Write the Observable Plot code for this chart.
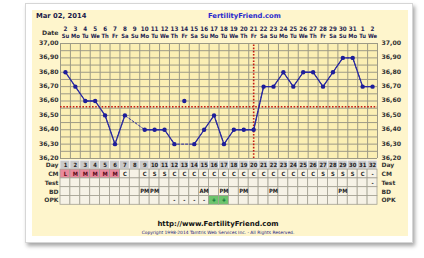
<!DOCTYPE html>
<html><head><meta charset="utf-8">
<script src="https://cdn.jsdelivr.net/npm/d3@7"></script>
<script src="https://cdn.jsdelivr.net/npm/@observablehq/plot@0.6"></script>
<style>
body{margin:0;background:#fff;width:424px;height:258px;overflow:hidden;position:relative;font-family:"DejaVu Sans",sans-serif}
#box{position:absolute;left:25px;top:3px;width:386px;height:238px;background:#fff;border:1px solid #d6d6d6;box-shadow:2px 3px 4px rgba(0,0,0,.35)}
#panel{position:absolute;left:32px;top:10px;width:376px;height:226px;background:#FEF5CC}
#chart{position:absolute;left:0;top:0}
.t{position:absolute;white-space:nowrap;font-weight:bold}
#title{left:36px;top:12px;font-size:6.8px;color:#1a1a4a}
#brand{left:208px;top:12px;font-size:6.8px;color:#2a2acc}
#url{left:0;width:436px;text-align:center;top:220px;font-size:7px;color:#111}
#copy{left:0;width:436px;text-align:center;top:230px;font-size:4.4px;color:#1a1a80;font-weight:normal}
</style></head><body>
<div id="box"></div><div id="panel"></div><div id="chart"></div>
<div class="t" id="title">Mar 02, 2014</div>
<div class="t" id="brand">FertilityFriend.com</div>
<div class="t" id="url">http://www.FertilityFriend.com</div>
<div class="t" id="copy">Copyright 1998-2014 Tamtris Web Services Inc. - All Rights Reserved.</div>
<script>
// ---- data ----
const days = d3.range(1, 33);
const dates = [2,3,4,5,6,7,8,9,10,11,12,13,14,15,16,17,18,19,20,21,22,23,24,25,26,27,28,29,30,31,1,2];
const weekdays = ["Su","Mo","Tu","We","Th","Fr","Sa","Su","Mo","Tu","We","Th","Fr","Sa","Su","Mo","Tu","We","Th","Fr","Sa","Su","Mo","Tu","We","Th","Fr","Sa","Su","Mo","Tu","We"];
const temps = [36.80,36.70,36.60,36.60,36.50,36.30,36.50,null,36.40,36.40,36.40,36.30,null,36.30,36.40,36.50,36.30,36.40,36.40,36.40,36.70,36.70,36.80,36.70,36.80,36.80,36.70,36.80,36.90,36.90,36.70,36.70];
const discardedDays = [13];
const discardedTemps = [36.60];
const cm   = ["L","M","M","M","M","M","C","","C","S","S","C","C","C","C","C","C","C","C","C","C","C","C","C","C","C","S","S","S","S","C","-"];
const test = ["","","","","","","","","","","","","","","","","","","","","","","","","","","","","","","","-"];
const bd   = ["","","","","","","","","PM","PM","","","","","AM","","PM","","PM","","","PM","","","","","","","PM","","",""];
const opk  = ["","","","","","","","","","","","-","-","-","-","+","+","","","","","","","","","","","","","","",""];
const rowNames = ["Day","CM","Test","BD","OPK"];
const yTicks = [37.00,36.90,36.80,36.70,36.60,36.50,36.40,36.30,36.20];
const coverline = 36.56;
const ovulationDay = 20;

// ---- derived ----
const yMin = d3.min(yTicks), yMax = d3.max(yTicks);
const gridY = d3.range(0, 17).map(i => +(yMin + i * 0.05).toFixed(2));
const gridX = d3.range(0, days.length + 1).map(i => i + 0.5);
const pts = days.map((d, i) => ({day: d, temp: temps[i]}));
const valid = pts.filter(p => p.temp != null);
const disc = discardedDays.map((d, i) => ({day: d, temp: discardedTemps[i]}));
const rowGap = 0.016, rowH = 0.0612;
const rowTop = i => yMin - rowGap - i * rowH;
const rowVals = [days.map(String), cm, test, bd, opk];
const cells = [];
rowVals.forEach((vals, r) => vals.forEach((v, i) => {
  let fill = r === 0 ? "#C9C9C9" : "#F6F2E6";
  let color = "#222";
  if (r === 1 && (v === "L" || v === "M")) { fill = "#E98A9C"; color = "#5a0a1a"; }
  if (r === 4 && v === "+") { fill = "#6CC46C"; color = "#063"; }
  cells.push({day: days[i], row: r, text: v, fill, color});
}));
const fmt = v => d3.format(".2f")(v).replace(".", ",");
const font = "DejaVu Sans";
const cond = "DejaVu Sans Condensed";

const chart = Plot.plot({
  width: 424, height: 258,
  marginLeft: 0, marginRight: 0, marginTop: 0, marginBottom: 0,
  style: {background: "transparent", fontFamily: font, overflow: "visible"},
  x: {type: "linear", domain: [0.5, days.length + 0.5], range: [60, 377], axis: null},
  y: {type: "linear", domain: [yMin, yMax], range: [158, 43], axis: null},
  marks: [
    Plot.rect([0], {x1: 0.5, x2: days.length + 0.5, y1: yMin, y2: yMax, fill: "#FBEFB4"}),
    Plot.ruleY(gridY, {x1: 0.5, x2: days.length + 0.5, stroke: "#9d9a86", strokeWidth: 1}),
    Plot.ruleX(gridX, {y1: yMin, y2: yMax, stroke: "#9d9a86", strokeWidth: 1}),
    Plot.ruleY([coverline], {x1: 0.5, x2: days.length + 0.5, stroke: "#c41a10", strokeWidth: 1.6, strokeDasharray: "1.6,1.6"}),
    Plot.ruleX([ovulationDay], {y1: yMin, y2: yMax, stroke: "#c41a10", strokeWidth: 1.6, strokeDasharray: "1.6,1.6"}),
    Plot.line(valid, {x: "day", y: "temp", stroke: "#2a2aa0", strokeWidth: 1, strokeDasharray: "2,2"}),
    Plot.line(pts, {x: "day", y: "temp", stroke: "#2a2aa0", strokeWidth: 1.3}),
    Plot.dot(valid, {x: "day", y: "temp", r: 2.2, fill: "#1e1e9a"}),
    Plot.dot(disc, {x: "day", y: "temp", r: 2.2, fill: "#1e1e9a"}),
    // temperature labels
    Plot.text(yTicks, {x: 0.5, y: d => d, text: fmt, dx: -2, dy: -0.5, textAnchor: "end", fontSize: 6.2, fontWeight: "bold", fill: "#333"}),
    Plot.text(yTicks, {x: days.length + 0.5, y: d => d, text: fmt, dx: 4, dy: -0.5, textAnchor: "start", fontSize: 6.2, fontWeight: "bold", fill: "#333"}),
    // header
    Plot.text(days, {x: d => d, y: yMax, text: (d, i) => String(dates[i]), dy: -14, fontSize: 6.2, fontFamily: cond, fontWeight: "bold", fill: "#1c1c50"}),
    Plot.text(days, {x: d => d, y: yMax, text: (d, i) => weekdays[i], dy: -7, fontSize: 5.8, fontFamily: cond, fontWeight: "bold", fill: "#1c1c50"}),
    Plot.text(["Date"], {x: 0.5, y: yMax, dx: -2, dy: -10, textAnchor: "end", fontSize: 6.2, fontWeight: "bold", fill: "#333"}),
    // table
    Plot.rect(cells, {x1: d => d.day - 0.5, x2: d => d.day + 0.5, y1: d => rowTop(d.row) - rowH, y2: d => rowTop(d.row), fill: "fill", stroke: d => d.row === 0 ? "#f2f2f2" : "#a3a093", strokeWidth: 0.8}),
    Plot.text(cells, {x: "day", y: d => rowTop(d.row) - rowH / 2, text: "text", fill: "color", fontSize: 5.8, fontFamily: cond, fontWeight: "bold"}),
    Plot.text(rowNames, {x: 0.5, y: (d, i) => rowTop(i) - rowH / 2, text: d => d, dx: -2, textAnchor: "end", fontSize: 6, fontWeight: "bold", fill: "#333"}),
    Plot.text(rowNames, {x: days.length + 0.5, y: (d, i) => rowTop(i) - rowH / 2, text: d => d, dx: 4, textAnchor: "start", fontSize: 6, fontWeight: "bold", fill: "#333"})
  ]
});
document.getElementById("chart").appendChild(chart);
</script>
</body></html>
